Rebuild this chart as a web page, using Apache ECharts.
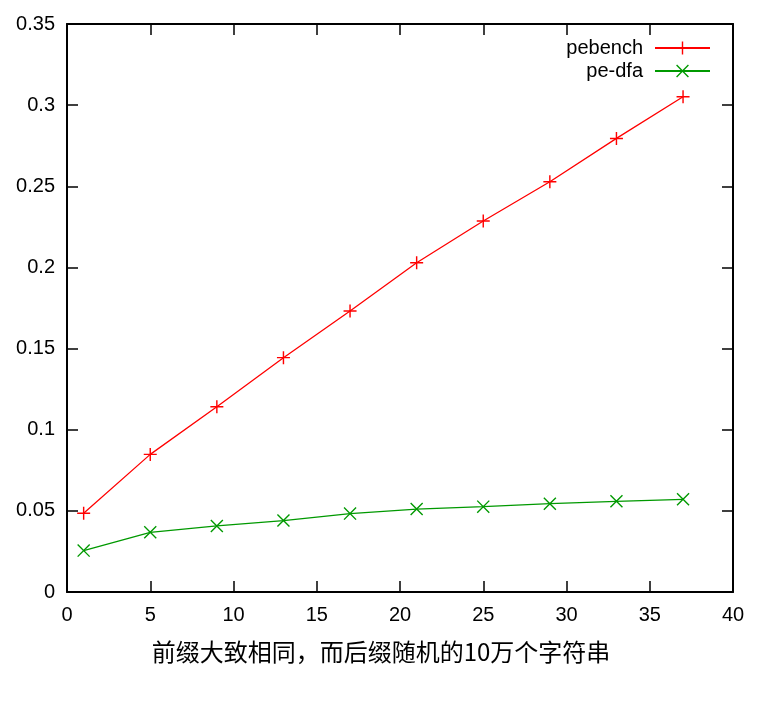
<!DOCTYPE html>
<html>
<head>
<meta charset="utf-8">
<script src="https://cdn.jsdelivr.net/npm/echarts@6/dist/echarts.min.js"></script>
<style>html,body{margin:0;padding:0;background:#fff}#c{width:774px;height:702px}</style>
</head>
<body>
<div id="c"></div>
<script>
const xValues = [1, 5, 9, 13, 17, 21, 25, 29, 33, 37];
const pebench = [0.0485, 0.0848, 0.1142, 0.1444, 0.1731, 0.2029, 0.2286, 0.2528, 0.2795, 0.3052];
const peDfa = [0.0255, 0.0368, 0.0407, 0.0440, 0.0483, 0.0511, 0.0526, 0.0544, 0.0559, 0.0571];
const seriesNames = ['pebench', 'pe-dfa'];
const xAxisName = '前缀大致相同，而后缀随机的10万个字符串';

const FONT = '"Liberation Sans", Arial, sans-serif';
const plusPath = 'path://M4.45,0 H5.55 V4.45 H10 V5.55 H5.55 V10 H4.45 V5.55 H0 V4.45 H4.45 Z';
const crossPath = 'path://M0,0.75 L0.75,0 L10,9.25 L9.25,10 Z M9.25,0 L10,0.75 L0.75,10 L0,9.25 Z';

const pair = (xs, ys) => xs.map((x, i) => [x, ys[i]]);
const axisLine = { show: true, onZero: false, lineStyle: { color: '#000', width: 2 } };
const tick = { show: true, inside: true, length: 11, lineStyle: { color: '#000', width: 1.5 } };

const chart = echarts.init(document.getElementById('c'), null, { renderer: 'canvas' });
chart.setOption({
  animation: false,
  textStyle: { fontFamily: FONT },
  grid: { left: 67, right: 41, top: 24, bottom: 110, containLabel: false },
  legend: {
    orient: 'vertical',
    right: 58,
    top: 33,
    align: 'right',
    itemWidth: 55,
    itemHeight: 16,
    itemGap: 3,
    textStyle: { fontFamily: FONT, fontSize: 20, color: '#000', padding: [0, 7, 0, 0] },
    data: seriesNames
  },
  xAxis: [{
    type: 'value', min: 0, max: 40, interval: 5,
    axisLine: axisLine, axisTick: tick, splitLine: { show: false },
    axisLabel: { fontSize: 20, color: '#000', margin: 13, fontFamily: FONT },
    name: xAxisName, nameLocation: 'middle', nameGap: 48,
    nameTextStyle: { fontSize: 24, color: '#000', fontFamily: '"Noto Sans CJK SC", sans-serif', padding: [0, 38, 0, 0] }
  }, {
    type: 'value', min: 0, max: 40, interval: 5, position: 'top',
    axisLine: axisLine, axisTick: tick, splitLine: { show: false }, axisLabel: { show: false }
  }],
  yAxis: [{
    type: 'value', min: 0, max: 0.35, interval: 0.05,
    axisLine: axisLine, axisTick: tick, splitLine: { show: false },
    axisLabel: { fontSize: 20, color: '#000', margin: 12, fontFamily: FONT }
  }, {
    type: 'value', min: 0, max: 0.35, interval: 0.05, position: 'right',
    axisLine: axisLine, axisTick: tick, splitLine: { show: false }, axisLabel: { show: false }
  }],
  series: [{
    name: seriesNames[0], type: 'line', data: pair(xValues, pebench),
    symbol: plusPath, symbolSize: 13,
    lineStyle: { color: '#ff0000', width: 1.3 },
    itemStyle: { color: '#ff0000' }
  }, {
    name: seriesNames[1], type: 'line', data: pair(xValues, peDfa),
    symbol: crossPath, symbolSize: 13,
    lineStyle: { color: '#009900', width: 1.3 },
    itemStyle: { color: '#009900' }
  }]
});
</script>
</body>
</html>
